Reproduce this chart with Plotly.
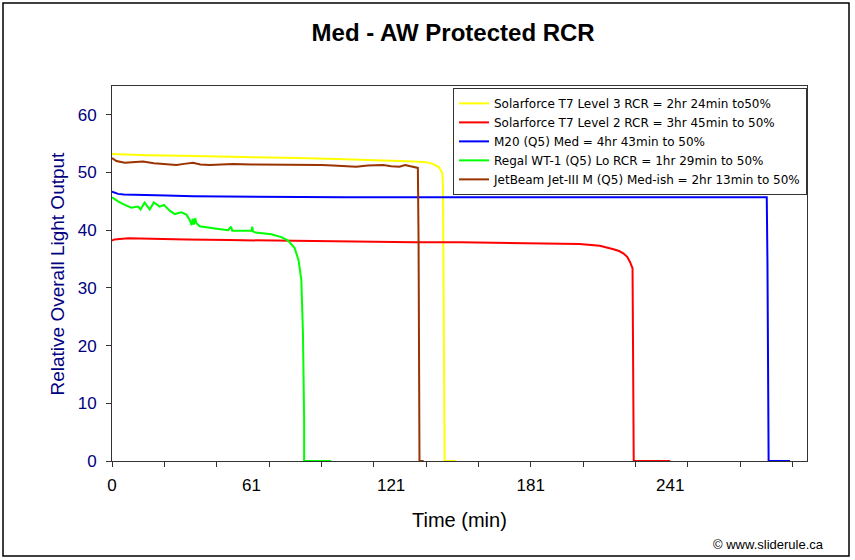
import plotly.graph_objects as go

# ---------------- data ----------------
names = [
    "Solarforce T7 Level 3 RCR = 2hr 24min to50%",
    "Solarforce T7 Level 2 RCR = 3hr 45min to 50%",
    "M20 (Q5) Med = 4hr 43min to 50%",
    "Regal WT-1 (Q5) Lo RCR = 1hr 29min to 50%",
    "JetBeam Jet-III M (Q5) Med-ish = 2hr 13min to 50%",
]
colors = ["#FFFF00", "#FF0000", "#0000FF", "#00FF00", "#993300"]

yellow_t = [0, 5, 15, 30, 45, 60, 80, 100, 115, 123.6, 130, 135, 138, 140.6, 142, 142.3, 142.6, 143, 148]
yellow_v = [53.2, 53.1, 53.0, 52.9, 52.8, 52.7, 52.5, 52.3, 52.1, 52.1, 51.9, 51.8, 51.5, 50.9, 49.9, 47.6, 24.7, 0, 0]

red_t = [0, 1, 7, 15, 25, 32, 50, 70, 87, 110, 130, 150, 170, 190, 201, 209.7, 213, 215.6, 218, 219.8,
         221.5, 222.7, 223.8, 224.0, 224.3, 240]
red_v = [38.2, 38.4, 38.6, 38.5, 38.5, 38.4, 38.3, 38.2, 38.0, 38.0, 37.9, 37.9, 37.8, 37.7, 37.6, 37.3,
         37.0, 36.7, 36.4, 36.0, 35.4, 34.5, 33.4, 25.0, 0, 0]

blue_t = [0, 1, 2.6, 5, 11, 23.4, 35, 55, 80.7, 100, 150, 200, 240, 281.5, 281.8, 282.3, 291.5]
blue_v = [46.7, 46.5, 46.3, 46.2, 46.1, 46.0, 45.9, 45.8, 45.7, 45.7, 45.7, 45.7, 45.7, 45.7, 34.3, 0, 0]

green_t = [0, 2.6, 5.5, 8.3, 11.2, 12.3, 14, 16.2, 18, 20.5, 22.3, 24.8, 27, 29.8, 32, 33.4, 34.2, 34.7,
           35.2, 35.8, 36.3, 37.7, 44.2, 49.9, 51.2, 51.4, 51.7, 55, 60, 60.3, 60.6, 61.7, 68.5, 72.8,
           75.7, 78.5, 80.2, 81.4, 82.1, 82.6, 82.6, 94.3]
green_v = [45.7, 45.0, 44.4, 43.9, 44.1, 43.6, 44.8, 43.6, 44.8, 44.1, 44.4, 43.4, 42.8, 43.1, 42.7, 41.8,
           40.9, 42.0, 41.0, 42.1, 41.2, 40.7, 40.3, 40.0, 40.6, 40.0, 39.9, 39.9, 39.9, 40.6, 39.8, 39.6,
           39.3, 38.8, 38.2, 36.9, 34.8, 31.4, 22.1, 7.1, 0, 0]

brown_t = [0, 1.9, 5.5, 9, 13.3, 18, 21.9, 27.7, 31, 34.8, 38, 42, 47, 52, 60, 69, 80, 90, 95, 105, 110,
           116.6, 120, 123.6, 126, 128, 130.2, 131.5, 131.8, 132.2, 134]
brown_v = [52.5, 52.0, 51.7, 51.8, 51.9, 51.6, 51.5, 51.3, 51.5, 51.7, 51.4, 51.3, 51.4, 51.5, 51.4, 51.4,
           51.3, 51.3, 51.2, 51.0, 51.2, 51.3, 51.1, 51.0, 51.3, 51.1, 50.9, 50.8, 38.3, 0, 0]

x_label_vals = [0, 60, 120, 180, 240]
x_label_text = ["0", "61", "121", "181", "241"]
x_tick_step = 22.5
x_max = 298.8
y_max = 65

series_t = [yellow_t, red_t, blue_t, green_t, brown_t]
series_v = [yellow_v, red_v, blue_v, green_v, brown_v]

FONT = "Arial, 'Liberation Sans', sans-serif"
LEGEND_FONT = "'DejaVu Sans', Arial, sans-serif"
NAVY = "#000080"

fig = go.Figure()
for n, c, t, v in zip(names, colors, series_t, series_v):
    fig.add_trace(go.Scatter(x=t, y=v, mode="lines", name=n,
                             line=dict(color=c, width=2)))

# empty helper trace so the label axis (x2) is drawn
fig.add_trace(go.Scatter(x=[x_label_vals[0]], y=[None], xaxis="x2", mode="lines",
                         showlegend=False, hoverinfo="skip"))

minor_ticks = [i * x_tick_step for i in range(int(x_max // x_tick_step) + 1)]

fig.update_layout(
    width=855, height=560,
    margin=dict(l=112, r=48, t=86, b=99),
    paper_bgcolor="white", plot_bgcolor="white",
    font=dict(family=FONT, color="black"),
    showlegend=True,
    title=dict(text="<b>Med - AW Protected RCR</b>", x=0.53, xref="container", xanchor="center",
               y=1 - 33 / 560, yref="container", yanchor="middle",
               font=dict(size=24, color="black", family=FONT)),
    legend=dict(x=1, y=0.995, xanchor="right", yanchor="top", bgcolor="white",
                bordercolor="#333333", borderwidth=1,
                font=dict(size=12, color="black", family=LEGEND_FONT),
                itemwidth=30, tracegroupgap=0),
    xaxis=dict(range=[0, x_max], tickmode="array", tickvals=minor_ticks, showticklabels=False,
               ticks="outside", ticklen=5, tickcolor="#333333", showgrid=False, zeroline=False,
               showline=True, linecolor="#333333", linewidth=1, mirror=True),
    xaxis2=dict(range=[0, x_max], overlaying="x", anchor="y", side="bottom",
                tickmode="array", tickvals=x_label_vals, ticktext=x_label_text, ticks="",
                showgrid=False, zeroline=False, showline=False, ticklabelstandoff=12,
                tickfont=dict(size=17, color="black", family=FONT)),
    yaxis=dict(range=[0, y_max], dtick=10, tick0=0, ticks="outside", ticklen=5, tickcolor="#333333",
               tickfont=dict(size=17, color=NAVY, family=FONT), ticklabelstandoff=6,
               showgrid=False, zeroline=False, showline=True, linecolor="#333333", linewidth=1,
               mirror=True),
    annotations=[
        dict(text="Relative Overall Light Output", xref="paper", yref="paper",
             x=(57 - 112) / 695, y=0.5, xanchor="center", yanchor="middle", textangle=-90,
             showarrow=False, font=dict(size=19, color=NAVY, family=FONT)),
        dict(text="Time (min)", xref="paper", yref="paper", x=(460 - 112) / 695,
             y=(461 - 520) / 375, xanchor="center", yanchor="middle", showarrow=False,
             font=dict(size=20, color="black", family=FONT)),
        dict(text="© www.sliderule.ca", xref="paper", yref="paper", x=(826 - 112) / 695,
             y=(461 - 544) / 375, xanchor="right", yanchor="middle", showarrow=False,
             font=dict(size=13, color="black", family=FONT)),
    ],
    shapes=[
        dict(type="rect", xref="paper", yref="paper",
             x0=(3 - 112) / 695, x1=(849 - 112) / 695, y0=(461 - 556) / 375, y1=(461 - 3) / 375,
             line=dict(color="black", width=1.5), fillcolor="rgba(0,0,0,0)", layer="below"),
    ],
)

fig.write_html("out.html", config={"displayModeBar": False},
               post_script="document.body.style.margin='0';")
